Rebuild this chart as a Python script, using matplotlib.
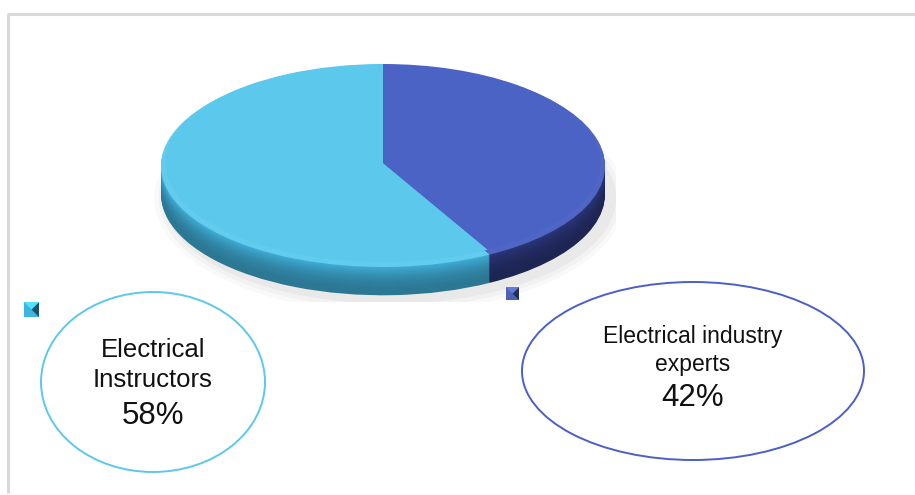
import matplotlib.pyplot as plt
import matplotlib.patches as patches
import numpy as np

plt.rcParams['font.family'] = ['Liberation Sans', 'DejaVu Sans']

# Data
categories = ['Electrical\nInstructors', 'Electrical industry\nexperts']
shares = [58, 42]
top_colors = ['#5BC8EC', '#4A63C4']
side_colors = ['#3A9EC4', '#27316E']
edge_colors = ['#5BC8EC', '#4A5FC8']

W, H = 915, 495
fig = plt.figure(figsize=(W / 100, H / 100), dpi=100)

# full-figure pixel axes for frame, bubbles, keys
bg = fig.add_axes([0, 0, 1, 1])
bg.set_xlim(0, W)
bg.set_ylim(H, 0)
bg.axis('off')

# frame (left + top lines only visible)
bg.plot([7.5, 7.5], [14, 493], color='#D9D9D9', lw=2.2, solid_capstyle='butt')
bg.plot([7, W], [14, 14], color='#D9D9D9', lw=2.2, solid_capstyle='butt')

# pie axes: 222 px per x unit, 101 px per y unit
cx, cy, rx, ry = 383, 166, 222, 101
xl, yl = (-1.05, 1.05), (-1.35, 1.05)
left = cx + xl[0] * rx
top = cy - yl[1] * ry
w = (xl[1] - xl[0]) * rx
h = (yl[1] - yl[0]) * ry
ax = fig.add_axes([left / W, (H - top - h) / H, w / W, h / H])

# soft shadow
for k, a in enumerate([0.05, 0.07, 0.10]):
    grow = 0.06 - k * 0.02
    ax.add_patch(patches.Ellipse((0.03, -0.32), 2 + 2 * grow, 2 + 2 * grow * 2.2,
                                 color='#9A9A9A', alpha=a, lw=0, zorder=0))

# side of the disc: stacked pies shifted downward
thick = 0.28
steps = 28
for i in range(steps, 0, -1):
    dy = thick * i / steps
    f = 0.75 + 0.35 * (1 - i / steps) ** 2
    cols = []
    for c in side_colors:
        rgb = np.array(plt.matplotlib.colors.to_rgb(c)) * f
        cols.append(np.clip(rgb, 0, 1))
    ax.pie(shares, colors=cols, startangle=90, counterclock=True,
           center=(0, -dy), radius=1, wedgeprops=dict(lw=0))

# bevel ring and top face
ax.pie(shares, colors=['#63CCEE', '#4F66C6'], startangle=90, counterclock=True,
       radius=1, wedgeprops=dict(lw=0))
ax.pie(shares, colors=top_colors, startangle=90, counterclock=True,
       center=(0, 0.03), radius=0.98, wedgeprops=dict(lw=0))
ax.set_aspect('auto')
ax.set_xlim(*xl)
ax.set_ylim(*yl)
ax.axis('off')

# label bubbles
bubbles = [(153, 382, 224, 180), (693, 371, 342, 178)]
name_sizes = [18.5, 16.5]
name_y = [[350, 380], [337, 365]]
pct_y = [416, 398]
for i in range(2):
    bx, by, bw, bh = bubbles[i]
    bg.add_patch(patches.Ellipse((bx, by), bw, bh, fill=False,
                                 edgecolor=edge_colors[i], lw=1.4))
    for line, ty in zip(categories[i].split('\n'), name_y[i]):
        bg.text(bx, ty, line, ha='center', va='center',
                fontsize=name_sizes[i], color='#111111')
    bg.text(bx, pct_y[i], f'{shares[i]}%', ha='center', va='center',
            fontsize=22.5, color='#111111')

# legend keys (bevelled squares)
keys = [(24, 302, 15, '#3EB5DE'), (506, 287, 13, '#4A5FB8')]
for kx, ky, s, c in keys:
    bg.add_patch(patches.Rectangle((kx, ky), s, s, color=c, lw=0))
    dark = np.array(plt.matplotlib.colors.to_rgb(c)) * 0.45
    light = np.clip(np.array(plt.matplotlib.colors.to_rgb(c)) * 1.25, 0, 1)
    bg.add_patch(patches.Polygon([(kx + s, ky), (kx + s, ky + s), (kx + s / 2, ky + s / 2)],
                                 color=dark, lw=0))
    bg.add_patch(patches.Polygon([(kx, ky), (kx + s, ky), (kx + s / 2, ky + s / 2)],
                                 color=light, lw=0))

fig.savefig('out.png', dpi=100)
